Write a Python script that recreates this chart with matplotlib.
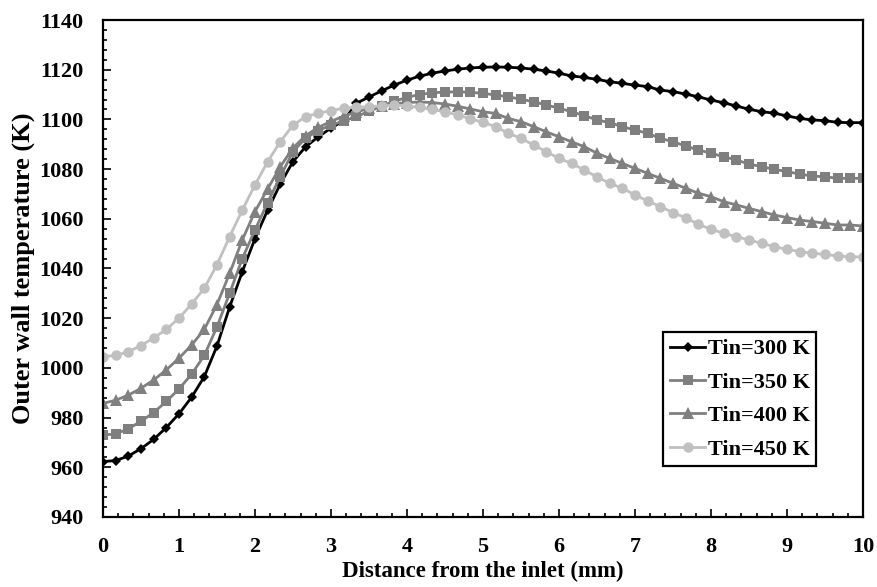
import numpy as np
import matplotlib
matplotlib.use('Agg')
import matplotlib.pyplot as plt
from matplotlib.ticker import MultipleLocator

# distance from the inlet (mm), one point every 1/6 mm
distance = np.arange(61) / 6.0

# outer wall temperature (K)
t_300 = [962.3, 962.7, 964.5, 967.5, 971.2, 976.0, 981.5, 988.2, 996.5, 1008.8,
         1024.5, 1038.7, 1052.0, 1063.5, 1074.0, 1083.0, 1089.0, 1093.0, 1096.5, 1099.5,
         1106.5, 1109.0, 1111.5, 1113.8, 1115.8, 1117.4, 1118.6, 1119.5, 1120.2, 1120.7,
         1121.0, 1121.1, 1121.0, 1120.7, 1120.2, 1119.5, 1118.6, 1117.5, 1116.9, 1116.1,
         1115.2, 1114.5, 1113.8, 1113.2, 1111.8, 1111.2, 1110.2, 1109.1, 1107.8, 1106.7,
         1105.4, 1104.1, 1103.1, 1102.5, 1101.4, 1100.4, 1099.8, 1099.5, 1098.8, 1098.7,
         1098.7]
t_350 = [973.0, 973.4, 975.5, 978.5, 982.0, 986.5, 991.5, 997.5, 1005.0, 1016.5,
         1030.0, 1044.0, 1055.5, 1066.5, 1077.0, 1087.0, 1092.5, 1095.5, 1097.7, 1099.3,
         1101.2, 1103.2, 1105.4, 1107.3, 1108.9, 1110.0, 1110.7, 1111.0, 1111.1, 1110.9,
         1110.5, 1109.8, 1109.1, 1108.1, 1107.1, 1105.8, 1104.5, 1103.1, 1101.5, 1099.8,
         1098.7, 1097.1, 1095.7, 1094.4, 1092.4, 1091.0, 1089.3, 1087.7, 1086.4, 1085.0,
         1083.7, 1082.0, 1081.0, 1079.9, 1079.0, 1078.0, 1077.2, 1076.9, 1076.3, 1076.3,
         1076.3]
t_400 = [985.7, 987.0, 989.0, 991.8, 995.1, 999.2, 1003.9, 1009.2, 1015.5, 1025.5,
         1038.0, 1051.5, 1062.9, 1072.0, 1081.0, 1088.5, 1093.5, 1096.8, 1099.2, 1101.3,
         1103.0, 1104.4, 1105.5, 1106.3, 1106.8, 1107.0, 1106.8, 1106.2, 1105.3, 1104.2,
         1103.1, 1102.4, 1100.4, 1099.1, 1097.1, 1095.0, 1093.0, 1091.0, 1089.0, 1086.4,
         1084.3, 1082.3, 1080.3, 1078.3, 1076.3, 1074.3, 1072.3, 1070.3, 1068.9, 1066.9,
         1065.6, 1064.2, 1062.9, 1061.5, 1060.5, 1059.5, 1058.9, 1058.2, 1057.5, 1057.5,
         1057.1]
t_450 = [1004.5, 1005.0, 1006.5, 1009.0, 1012.0, 1015.5, 1020.0, 1025.7, 1032.0, 1041.5,
         1052.8, 1063.5, 1073.6, 1083.0, 1091.0, 1097.7, 1101.1, 1102.5, 1103.5, 1104.5,
         1104.9, 1105.1, 1105.4, 1105.8, 1105.4, 1104.8, 1104.0, 1103.0, 1101.8, 1100.3,
         1098.8, 1097.1, 1094.4, 1092.4, 1089.7, 1087.0, 1084.3, 1082.3, 1079.6, 1076.9,
         1074.3, 1072.3, 1069.6, 1067.2, 1064.9, 1062.5, 1060.4, 1057.8, 1055.8, 1054.2,
         1052.8, 1051.5, 1050.1, 1048.8, 1047.7, 1046.8, 1046.1, 1045.7, 1045.0, 1044.7,
         1044.7]

labels = ['Tin=300 K', 'Tin=350 K', 'Tin=400 K', 'Tin=450 K']
series = [t_300, t_350, t_400, t_450]
colors = ['#000000', '#7f7f7f', '#808080', '#c0c0c0']
markers = ['D', 's', '^', 'o']
msizes = [5.5, 7.5, 8, 7.5]

plt.rcParams['font.family'] = 'Liberation Serif'
plt.rcParams['font.weight'] = 'bold'

fig = plt.figure(figsize=(8.77, 5.87), dpi=100)
ax = fig.add_axes([0.1174, 0.1193, 0.8666, 0.8466])

for y, lab, c, m, ms in zip(series, labels, colors, markers, msizes):
    ax.plot(distance, y, color=c, marker=m, markersize=ms, linewidth=2,
            markeredgewidth=0, label=lab)

ax.set_xlim(0, 10)
ax.set_ylim(940, 1140)
ax.xaxis.set_major_locator(MultipleLocator(1))
ax.xaxis.set_minor_locator(MultipleLocator(0.2))
ax.yaxis.set_major_locator(MultipleLocator(20))
ax.yaxis.set_minor_locator(MultipleLocator(4))
ax.tick_params(which='both', direction='in', width=1.2, labelsize=16)
ax.tick_params(which='major', length=6)
ax.tick_params(axis='x', which='major', pad=14.5)
ax.tick_params(axis='y', which='major', pad=14)
ax.tick_params(which='minor', length=3)
for lbl in ax.get_xticklabels() + ax.get_yticklabels():
    lbl.set_fontweight('bold')
for sp in ax.spines.values():
    sp.set_linewidth(1.6)

ax.set_xlabel('Distance from the inlet (mm)', fontsize=16.5, fontweight='bold', labelpad=3)
ax.set_ylabel('Outer wall temperature (K)', fontsize=19, fontweight='bold', labelpad=3)

leg = ax.legend(loc='upper left', bbox_to_anchor=(0.737, 0.372), fontsize=16,
                frameon=True, fancybox=False, edgecolor='black', framealpha=1,
                handlelength=1.6, handletextpad=0.1, labelspacing=0.58,
                borderpad=0.3, borderaxespad=0)
leg.get_frame().set_linewidth(1.6)
for t in leg.get_texts():
    t.set_fontweight('bold')

fig.savefig('out.png', dpi=100)
